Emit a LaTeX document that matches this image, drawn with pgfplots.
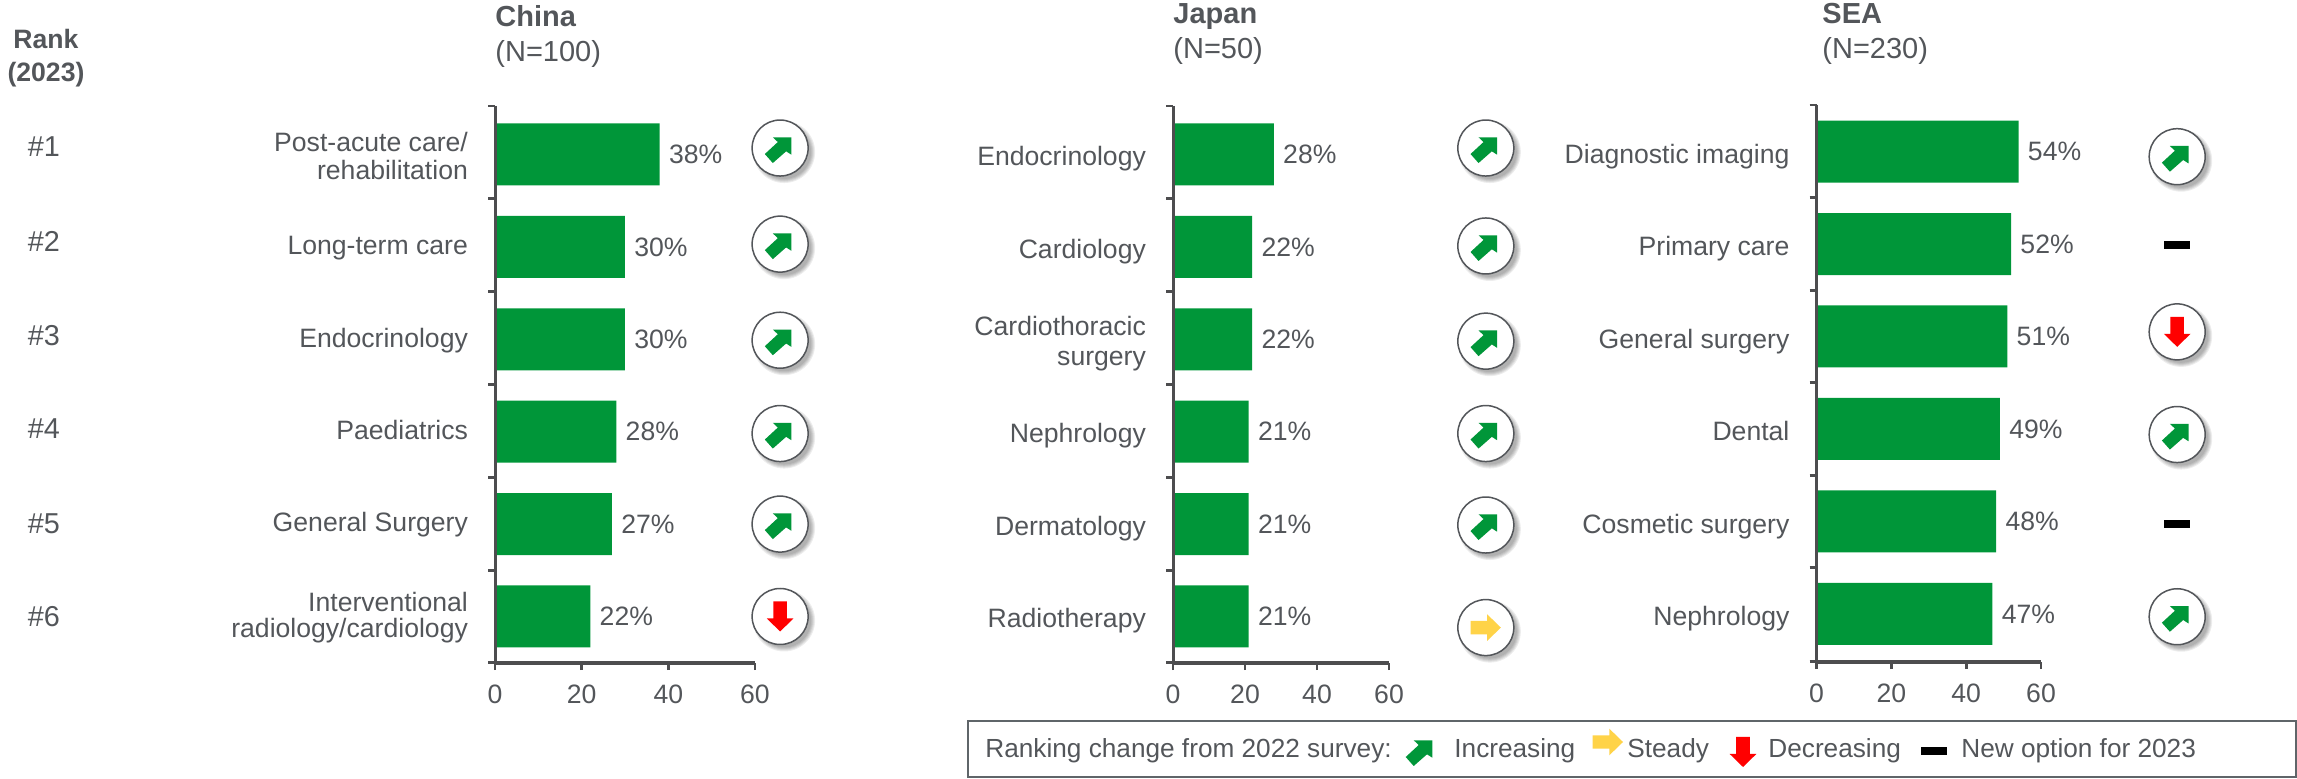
\documentclass[border=0pt]{standalone}
\usepackage{fontspec}
\setmainfont{Liberation Sans}
\usepackage{pgfplots}
\pgfplotsset{compat=1.18}
\definecolor{barg}{HTML}{009639}
\definecolor{arrr}{HTML}{FF0000}
\definecolor{arry}{HTML}{FFD348}
\definecolor{txt}{HTML}{53565A}
\definecolor{axc}{HTML}{4D4D4F}
\definecolor{boxc}{HTML}{5F6569}
\newcommand\Pt[2]{\pgfpoint{#1*0.5pt}{#2*0.5pt}}
\newcommand\Cir{%
  \begin{pgfscope}\pgfsetfillcolor{black}\pgfsetfillopacity{0.07}%
    \pgfpathcircle{\Pt{4}{-4}}{15.5pt}\pgfusepath{fill}%
    \pgfpathcircle{\Pt{4}{-4}}{15pt}\pgfusepath{fill}%
    \pgfpathcircle{\Pt{4}{-4}}{14.5pt}\pgfusepath{fill}%
    \pgfpathcircle{\Pt{4}{-4}}{14pt}\pgfusepath{fill}%
    \pgfpathcircle{\Pt{4}{-4}}{13.5pt}\pgfusepath{fill}%
  \end{pgfscope}%
  \begin{pgfscope}\pgfsetfillcolor{white}\pgfsetstrokecolor{txt}\pgfsetlinewidth{0.75pt}%
    \pgfpathcircle{\pgfpointorigin}{14pt}\pgfusepath{fill,stroke}%
  \end{pgfscope}}
\newcommand\Up{%
  \begin{pgfscope}\pgfsetfillcolor{barg}%
    \pgfpathmoveto{\Pt{11.3}{10.7}}\pgfpathlineto{\Pt{11.3}{-6.7}}\pgfpathlineto{\Pt{6}{-3.3}}%
    \pgfpathlineto{\Pt{-7.3}{-15}}\pgfpathlineto{\Pt{-15.3}{-6}}\pgfpathlineto{\Pt{-2.3}{6}}%
    \pgfpathlineto{\Pt{-7.3}{10.7}}\pgfpathclose\pgfusepath{fill}%
  \end{pgfscope}}
\newcommand\Down{%
  \begin{pgfscope}\pgfsetfillcolor{arrr}%
    \pgfpathmoveto{\Pt{-6.8}{15}}\pgfpathlineto{\Pt{6.8}{15}}\pgfpathlineto{\Pt{6.8}{-2}}%
    \pgfpathlineto{\Pt{13.3}{-2}}\pgfpathlineto{\Pt{0}{-15}}\pgfpathlineto{\Pt{-13.3}{-2}}%
    \pgfpathlineto{\Pt{-6.8}{-2}}\pgfpathclose\pgfusepath{fill}%
  \end{pgfscope}}
\newcommand\Right{%
  \begin{pgfscope}\pgfsetfillcolor{arry}%
    \pgfpathmoveto{\Pt{-15.3}{6.7}}\pgfpathlineto{\Pt{1.3}{6.7}}\pgfpathlineto{\Pt{1.3}{13.3}}%
    \pgfpathlineto{\Pt{15}{0}}\pgfpathlineto{\Pt{1.3}{-13.3}}\pgfpathlineto{\Pt{1.3}{-6.7}}%
    \pgfpathlineto{\Pt{-15.3}{-6.7}}\pgfpathclose\pgfusepath{fill}%
  \end{pgfscope}}
\pgfdeclareplotmark{cup}{\Cir\Up}
\pgfdeclareplotmark{cdown}{\Cir\Down}
\pgfdeclareplotmark{cright}{\Cir\Right}
\pgfdeclareplotmark{kup}{\Up}
\pgfdeclareplotmark{kdown}{\Down}
\pgfdeclareplotmark{kright}{\Right}
\pgfdeclareplotmark{kdash}{%
  \begin{pgfscope}\pgfsetfillcolor{black}%
    \pgfpathrectanglecorners{\Pt{-13.2}{-4}}{\Pt{13.2}{4}}\pgfusepath{fill}%
  \end{pgfscope}}
\newcommand\fs{\fontsize{13.3}{14}\selectfont}
\newcommand\st{\rule[-.21em]{0pt}{.72em}}
\pgfplotsset{
  panel/.style={
    scale only axis, clip=false, axis on top,
    anchor=south west, y dir=reverse,
    xmin=0, xmax=60,
    axis x line=bottom, axis y line=left,
    axis line style={-},
    x axis line style={draw=axc, line width=2pt},
    y axis line style={draw=axc, line width=1.5pt},
    xtick={0,20,40,60},
    ytick={0,1,2,3,4,5},
    major tick length=3.75pt, minor tick length=3.5pt,
    tick align=outside,
    x tick style={draw=axc, line width=1.4pt},
    y tick style={draw=axc, line width=1.4pt},
    major y tick style={draw=none},
    /pgf/number format/assume math mode=true,
    x tick label style={font=\fs, text=txt, inner sep=0pt, yshift=-7.2pt},
    y tick label style={font=\fs, text=txt, inner sep=0pt, xshift=-9.6pt, align=right},
  },
  vbar/.style={
    xbar, bar shift=0pt, bar width=31pt, fill=barg, draw=none,
    point meta=x,
    nodes near coords={\pgfmathprintnumber{\pgfplotspointmeta}\%},
    every node near coord/.append style={anchor=west, font=\fs, text=txt, inner sep=0pt, xshift=4.5pt},
  },
  icon/.style={only marks, mark=#1, forget plot},
}
\begin{document}
\begin{tikzpicture}
\path[use as bounding box] (0,0) rectangle (1148.5pt,389.5pt);

% China
\begin{axis}[panel, at={(247.5pt,58.15pt)}, width=130pt, height=278.35pt,
  ymin=-0.525, ymax=5.5,
  minor ytick={-0.525,0.48,1.485,2.49,3.495,4.5,5.5},
  y tick label style={yshift=-0.5pt},
  yticklabels={{Post-acute care/\\rehabilitation},{\st Long-term care},{\st Endocrinology},{\st Paediatrics},{\st General Surgery},{Interventional\hspace{2pt}\\[-1pt]radiology/cardiology}}]
\addplot[vbar] coordinates {(38,0) (30,1) (30,2) (28,3) (27,4) (22,5)};
\addplot[icon=cup] coordinates {(65.8,-0.07) (65.8,0.97) (65.8,2.01) (65.8,3.02) (65.8,4.0)};
\addplot[icon=cdown] coordinates {(65.8,5.0)};
\end{axis}

% Japan
\begin{axis}[panel, at={(586.5pt,58.15pt)}, width=108pt, height=278.35pt,
  ymin=-0.525, ymax=5.5,
  minor ytick={-0.525,0.48,1.485,2.49,3.495,4.5,5.5},
  y tick label style={yshift=-2.2pt},
  yticklabels={{\st Endocrinology},{\st Cardiology},{Cardiothoracic\hspace{3pt}\\[1pt]surgery},{\st Nephrology},{\st Dermatology},{\st Radiotherapy}}]
\addplot[vbar] coordinates {(28,0) (22,1) (22,2) (21,3) (21,4) (21,5)};
\addplot[icon=cup] coordinates {(86.9,-0.07) (86.9,0.99) (86.9,2.02) (86.9,3.02) (86.9,4.01)};
\addplot[icon=cright] coordinates {(86.9,5.12)};
\end{axis}

% SEA
\begin{axis}[panel, at={(908.25pt,58.65pt)}, width=112.25pt, height=278.35pt,
  ymin=-0.503, ymax=5.516,
  minor ytick={-0.503,0.5,1.5,2.5,3.5,4.5,5.516},
  y tick label style={yshift=-2.5pt},
  yticklabels={{\st Diagnostic imaging},{\st Primary care},{\st General surgery},{\st Dental},{\st Cosmetic surgery},{\st Nephrology}}]
\addplot[vbar] coordinates {(54,0) (52,1) (51,2) (49,3) (48,4) (47,5)};
\addplot[icon=cup] coordinates {(96.4,0.056) (96.4,3.06) (96.4,5.03)};
\addplot[icon=cdown] coordinates {(96.4,1.95)};
\addplot[icon=kdash] coordinates {(96.4,1.01) (96.4,4.03)};
\end{axis}

% Page-wide layer in reference pixels: headers, ranks, legend
\begin{axis}[scale only axis, hide axis, clip=false, at={(0pt,0pt)}, anchor=south west,
  width=1148.5pt, height=389.5pt, xmin=0, xmax=2297, ymin=0, ymax=779, y dir=reverse]
\draw[boxc, line width=1pt] (axis cs:968,721) rectangle (axis cs:2296,777);
\addplot[icon=kup] coordinates {(1421,751)};
\addplot[icon=kright] coordinates {(1608,742)};
\addplot[icon=kdown] coordinates {(1743,752)};
\addplot[icon=kdash] coordinates {(1934,751)};
\tikzset{lab/.style={anchor=base west, inner sep=0pt, text=txt, font=\fontsize{13.1}{14}\selectfont},
  hd/.style={anchor=base west, inner sep=0pt, text=txt, font=\fontsize{14.5}{15}\selectfont},
  rk/.style={anchor=base, inner sep=0pt, text=txt, font=\fontsize{13.3}{15}\selectfont}}
\node[lab] at (axis cs:985,758) {Ranking change from 2022 survey:};
\node[lab] at (axis cs:1454,758) {Increasing};
\node[lab] at (axis cs:1627,758) {Steady};
\node[lab] at (axis cs:1768,758) {Decreasing};
\node[lab] at (axis cs:1961,758) {New option for 2023};
\node[hd] at (axis cs:495,26.7) {\bfseries China};
\node[hd] at (axis cs:495,61.7) {(N=100)};
\node[hd] at (axis cs:1173,24) {\bfseries Japan};
\node[hd] at (axis cs:1173,59) {(N=50)};
\node[hd] at (axis cs:1822,24) {\bfseries SEA};
\node[hd] at (axis cs:1822,59) {(N=230)};
\node[rk] at (axis cs:46,49) {\bfseries Rank};
\node[rk] at (axis cs:46,81.7) {\bfseries (2023)};
\node[rk, font=\fontsize{14.4}{15}\selectfont] at (axis cs:44,157) {\#1};
\node[rk, font=\fontsize{14.4}{15}\selectfont] at (axis cs:44,251.7) {\#2};
\node[rk, font=\fontsize{14.4}{15}\selectfont] at (axis cs:44,345.7) {\#3};
\node[rk, font=\fontsize{14.4}{15}\selectfont] at (axis cs:44,439) {\#4};
\node[rk, font=\fontsize{14.4}{15}\selectfont] at (axis cs:44,533.5) {\#5};
\node[rk, font=\fontsize{14.4}{15}\selectfont] at (axis cs:44,626.5) {\#6};
\end{axis}
\end{tikzpicture}
\end{document}
